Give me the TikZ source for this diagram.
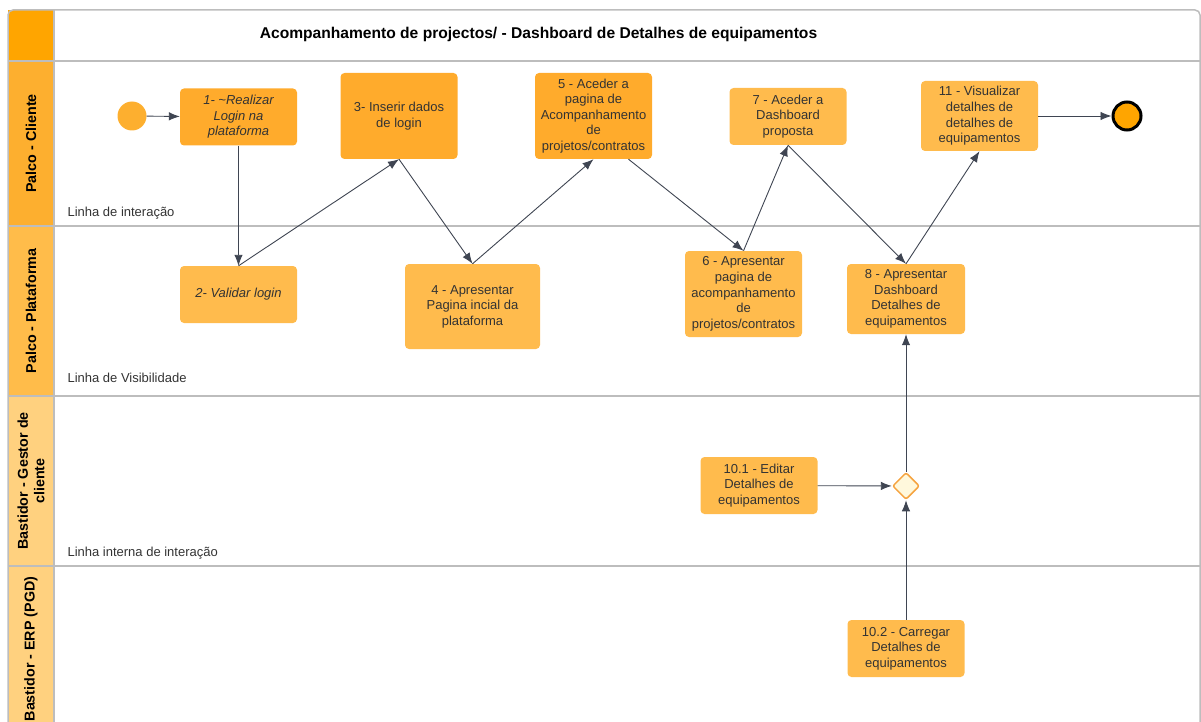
\documentclass[tikz,border=0pt]{standalone}
\usepackage{fontspec}
\setmainfont{Liberation Sans}
\usetikzlibrary{arrows.meta,shapes.geometric,positioning}

\definecolor{txtgrey}{HTML}{333333}
\definecolor{linegrey}{HTML}{BDBDBD}
\definecolor{arrowgrey}{HTML}{3F4552}
\definecolor{boxdark}{HTML}{FFAB2C}
\definecolor{boxlight}{HTML}{FFBB4D}
\definecolor{headtop}{HTML}{FFA500}
\definecolor{headone}{HTML}{FDAF2F}
\definecolor{headtwo}{HTML}{FFBC4A}
\definecolor{headback}{HTML}{FFD17F}
\definecolor{gatefill}{HTML}{FFF8DC}
\definecolor{gateline}{HTML}{F5A340}

\begin{document}
\begin{tikzpicture}[
                            x=1pt, y=-1pt,
                            every node/.style={font=\fontsize{13}{15.6}\selectfont, text=txtgrey},
                            task/.style={rectangle, rounded corners=4pt, fill=boxlight, align=center, minimum width=117pt, minimum height=57pt, inner sep=1pt},
                            lanelabel/.style={rotate=90, align=center, font=\bfseries\fontsize{14.3}{16.5}\selectfont, text=black},
                            laneline/.style={draw=linegrey, line width=1.5pt},
                            flow/.style={-{Latex[length=11pt,width=8.5pt]}, draw=arrowgrey, line width=0.9pt}
                        ]
                        \clip (0,0) rectangle (1201,722);
                        % Lanes
                        \fill[headtop] (8,10) rectangle (54,61);
                        \fill[headone] (8,61) rectangle (54,226);
                        \fill[headtwo] (8,226) rectangle (54,396);
                        \fill[headback] (8,396) rectangle (54,750);
                        \foreach \y in {61,226,396,566}
                            \draw[laneline] (8,\y) -- (1200,\y);
                        \draw[laneline] (54,10) -- (54,750);
                        \draw[laneline, rounded corners=5pt] (8,750) -- (8,10) -- (1200,10) -- (1200,750);
                        \node[font=\bfseries\fontsize{15.6}{18}\selectfont, text=black] (titulo) at (538.5,34) {Acompanhamento de projectos/ - Dashboard de Detalhes de equipamentos};
                        \node[lanelabel] (palcocli) at (31,143.5) {Palco - Cliente};
                        \node[lanelabel] (palcoplat) at (31,311) {Palco - Plataforma};
                        \node[lanelabel] (gestor) at (31,481) {Bastidor - Gestor de\\cliente};
                        \node[lanelabel] (erp) at (31,649) {Bastidor - ERP (PGD)};
                        \node[anchor=base west] (linha1) at (64,216.5) {Linha de interação};
                        \node[anchor=base west] (linha2) at (64,382.5) {Linha de Visibilidade};
                        \node[anchor=base west] (linha3) at (64,556.5) {Linha interna de interação};

                        % Blocks
                        \node [circle, fill=headone, minimum size=29pt] (inicio) at (132,116) {};
                        \node [task, fill=boxdark] (s1) at (238.5,117) {\itshape 1- \textasciitilde Realizar\\\itshape Login na\\\itshape plataforma};
                        \node [task, fill=boxdark, minimum height=86pt] (s3) at (399,116) {3- Inserir dados\\de login};
                        \node [task, fill=boxdark, minimum height=86pt] (s5) at (593.5,116) {5 - Aceder a\\pagina de\\Acompanhamento\\de\\projetos/contratos};
                        \node [task] (s7) at (788,116.5) {7 - Aceder a\\Dashboard\\proposta};
                        \node [task, minimum height=70pt] (s11) at (979.5,116) {11 - Visualizar\\detalhes de\\detalhes de\\equipamentos};
                        \node [circle, draw=black, line width=3pt, fill=headtop, minimum size=28pt] (fim) at (1127,116) {};
                        \node [task] (s2) at (238.5,294.5) {\itshape 2- Validar login};
                        \node [task, minimum width=135pt, minimum height=85pt] (s4) at (472.5,306.5) {4 - Apresentar\\Pagina incial da\\plataforma};
                        \node [task, minimum height=86pt] (s6) at (743.5,294) {6 - Apresentar\\pagina de\\acompanhamento\\de\\projetos/contratos};
                        \node [task, minimum width=118pt, minimum height=70pt] (s8) at (906,299) {8 - Apresentar\\Dashboard\\Detalhes de\\equipamentos};
                        \node [task] (s101) at (759,485.5) {10.1 - Editar\\Detalhes de\\equipamentos};
                        \node [diamond, draw=gateline, fill=gatefill, line width=1.5pt, rounded corners=2pt, minimum size=27pt, inner sep=0pt] (gw) at (906,486) {};
                        \node [task] (s102) at (906,648.5) {10.2 - Carregar\\Detalhes de\\equipamentos};

                        % Connections
                        \draw [flow] (inicio) -- (s1);
                        \draw [flow] (s1) -- (s2);
                        \draw [flow] (s2.north) -- (s3.south);
                        \draw [flow] (s3.south) -- (s4.north);
                        \draw [flow] (s4.north) -- (s5.south);
                        \draw [flow] ([xshift=35pt]s5.south) -- (s6.north);
                        \draw [flow] (s6.north) -- (s7.south);
                        \draw [flow] (s7.south) -- (s8.north);
                        \draw [flow] (s8.north) -- (s11.south);
                        \draw [flow] (s11) -- (fim);
                        \draw [flow] (s101) -- (gw);
                        \draw [flow] (s102) -- (gw);
                        \draw [flow] (gw) -- (s8);
                    \end{tikzpicture}
\end{document}
